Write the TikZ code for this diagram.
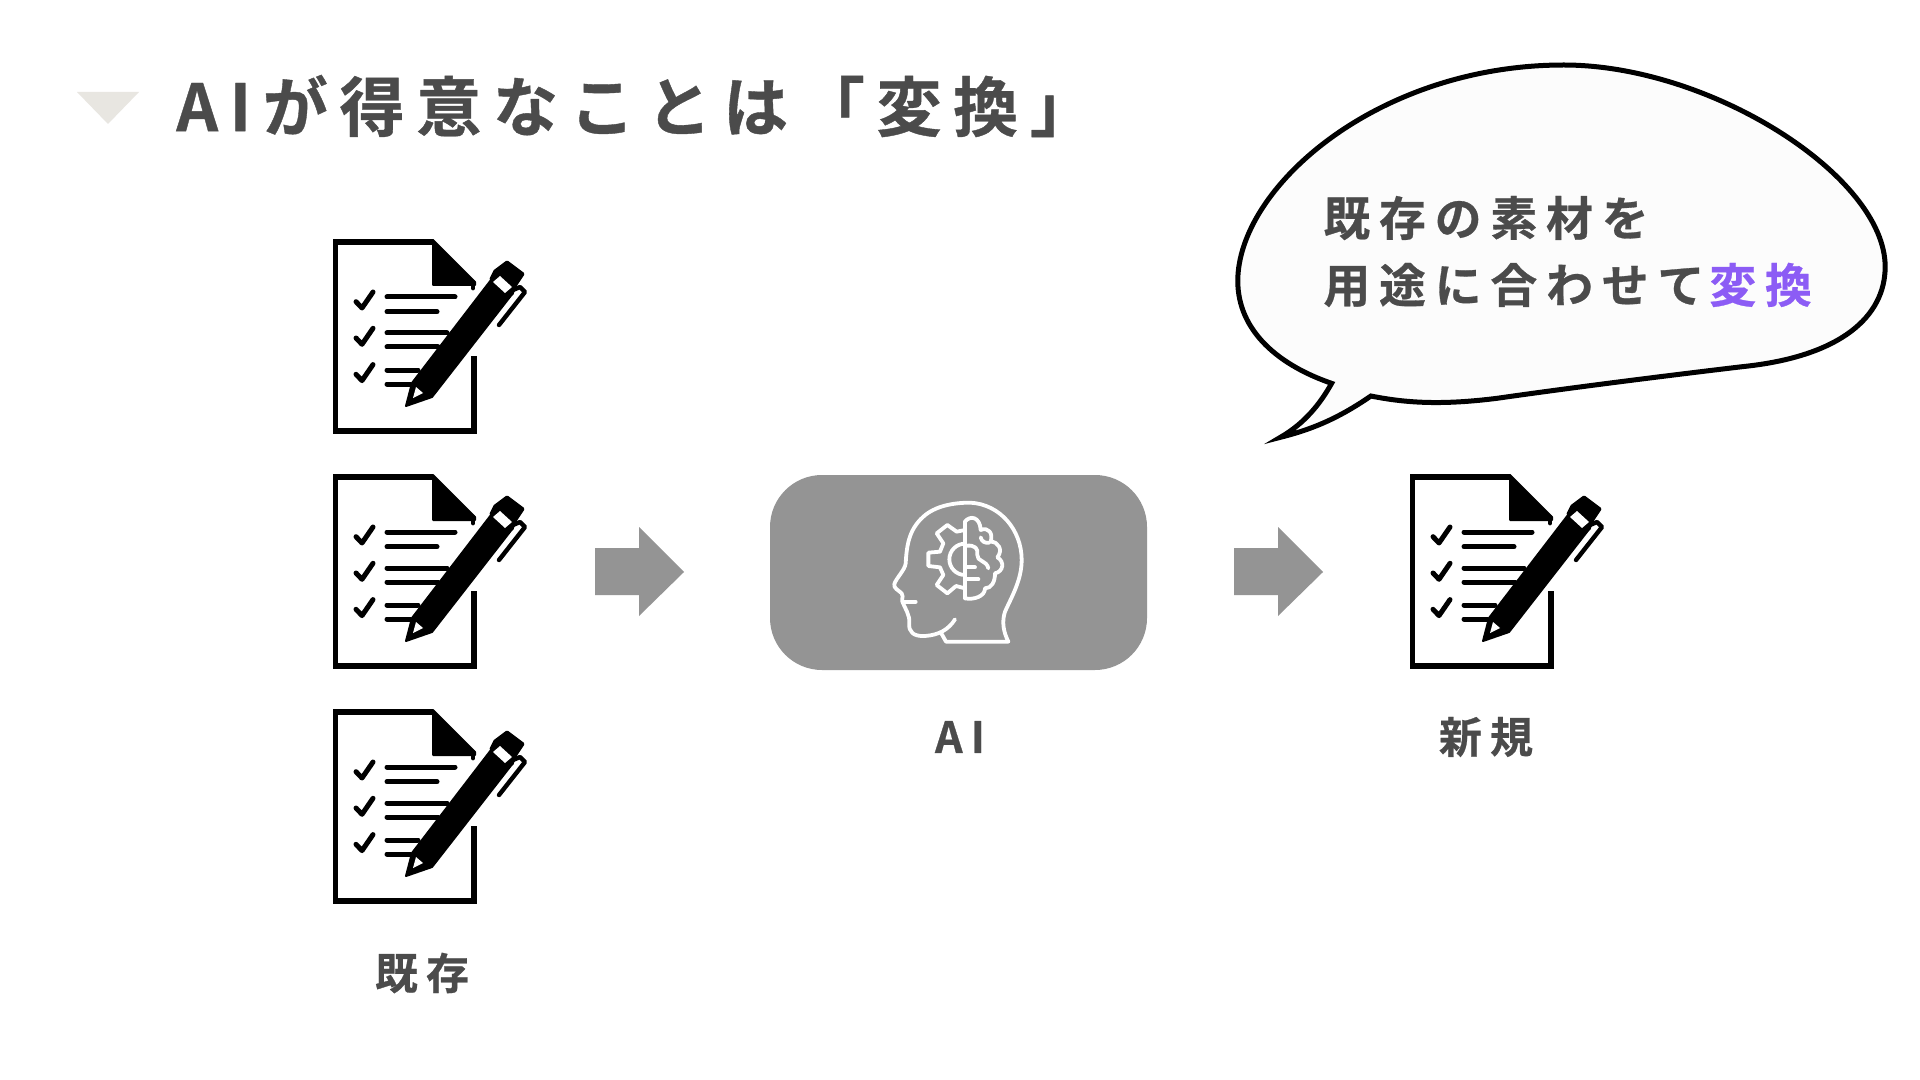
\documentclass[tikz,border=0pt]{standalone}
\usepackage{fontspec}
\setmainfont{Noto Sans CJK JP}[BoldFont={Noto Sans CJK JP Bold}]
\newfontfamily\jptitle{Noto Sans CJK JP Bold}[LetterSpace=18,FakeBold=0.6]
\newfontfamily\jpbody{Noto Sans CJK JP Bold}[LetterSpace=19,FakeBold=0.6]
\definecolor{ink}{HTML}{4B4B4B}
\definecolor{tri}{HTML}{E8E6E1}
\definecolor{panel}{HTML}{949494}
\definecolor{accent}{HTML}{8C5CF5}
\definecolor{bub}{HTML}{FCFCFC}
\tikzset{
  titletext/.style={anchor=west,inner sep=0pt,text=ink,font=\jptitle\fontsize{32.5}{38}\selectfont},
  bubbletext/.style={anchor=west,inner sep=0pt,text=ink,font=\jpbody\fontsize{23.4}{28}\selectfont},
  labeltext/.style={inner sep=0pt,text=ink,font=\jpbody\fontsize{21.5}{26}\selectfont},
  blockarrow/.style={fill=panel,draw=none},
  hd/.style={draw=white,line width=1.9pt,line cap=round,line join=round,fill=none},
  docicon/.pic={
    \begin{scope}[line width=2.5pt,line cap=round,line join=round]
      \draw[line width=2.6pt,line join=miter,line cap=butt] (154,126) -- (154,201) -- (15.5,201) -- (15.5,12) -- (113,12);
      \fill[black,draw=black,line width=1pt] (113,10) -- (155,52) -- (155,55) -- (113,55) -- cycle;
      \draw[line width=2.4pt] (153,52) -- (153,58);
      \draw (67,67) -- (135,67);
      \draw (67,81.7) -- (117,81.7);
      \draw (67,103) -- (127,103);
      \draw (67,117) -- (118,117);
      \draw (67,140) -- (98,140);
      \draw (67,154) -- (90,154);
      \foreach \dy in {0,36.3,72.6} {
        \draw (36,71.7+\dy) -- (42,78+\dy) -- (53,62+\dy);
      }
      \fill[black,draw=black,line width=1pt] (86,176) -- (92,153) -- (171,50) -- (193,63) -- (112,167) -- cycle;
      \fill[black,draw=black,line width=1.5pt] (175,41) -- (187,32) -- (203,44) -- (195,56) -- (192,64) -- (171,49) -- cycle;
      \fill[white] (173,52) -- (180,46) -- (192,57) -- (185,63) -- cycle;
      \draw[line width=2.2pt] (193,60) -- (200,57) -- (205,62) -- (179,95);
      \fill[white] (93,168) -- (96,157) -- (103,163) -- cycle;
    \end{scope}
  },
}
\begin{document}
\begin{tikzpicture}[x=0.5pt,y=-0.5pt]
\useasboundingbox (0,0) rectangle (1920,1080);
\fill[white] (0,0) rectangle (1920,1080);

% title
\fill[tri] (77,92) -- (139,92) -- (108,124) -- cycle;
\node[titletext] (title) at (176,106) {AIが得意なことは「変換」};

% documents
\pic at (320,230) {docicon};
\pic at (320,465) {docicon};
\pic at (320,700) {docicon};
\pic at (1397,465) {docicon};

% arrows
\fill[blockarrow] (595,548) -- (639,548) -- (639,527) -- (684,572) -- (639,616) -- (639,595) -- (595,595) -- cycle;
\fill[blockarrow] (1234,548) -- (1278,548) -- (1278,527) -- (1323,572) -- (1278,616) -- (1278,595) -- (1234,595) -- cycle;

% AI panel
\fill[panel,rounded corners=26pt] (770,475) rectangle (1147,670);

% head icon
\begin{scope}[shift={(860,480)},x=0.16667pt,y=-0.16667pt]
  \draw[hd] (285,418) .. controls (265,450) and (235,465) .. (195,468)
    .. controls (160,470) and (145,455) .. (148,430)
    .. controls (150,405) and (135,385) .. (127,365)
    .. controls (125,350) and (132,345) .. (125,340)
    .. controls (115,330) and (100,325) .. (103,312)
    .. controls (108,295) and (135,270) .. (137,250)
    .. controls (140,200) and (145,150) .. (190,110)
    .. controls (225,78) and (280,68) .. (330,68)
    .. controls (420,72) and (485,150) .. (485,240)
    .. controls (485,300) and (455,350) .. (435,395)
    .. controls (425,425) and (430,455) .. (445,485)
    -- (258,485) -- (245,462);
  \draw[hd] (130,365) -- (167,365);
  % centre line
  \draw[hd] (315,125) -- (315,355);
  % gear half
  \draw[hd] (315,150) -- (290,155) -- (262,135) -- (230,160) -- (250,190) -- (240,215)
    -- (205,218) -- (205,258) -- (240,262) -- (250,285) -- (230,315) -- (262,340) -- (288,318) -- (315,325);
  \draw[hd] (315,285) arc (90:270:47);
  % brain half
  \draw[hd] (315,125) .. controls (330,105) and (360,110) .. (362,150)
    .. controls (385,140) and (400,160) .. (392,185)
    .. controls (415,185) and (430,210) .. (412,232)
    .. controls (435,245) and (430,275) .. (405,280)
    .. controls (405,305) and (395,325) .. (375,325)
    .. controls (375,350) and (340,360) .. (315,355);
  \draw[hd] (320,197) .. controls (345,195) and (355,205) .. (352,225)
    .. controls (350,245) and (380,240) .. (385,265);
  \draw[hd] (320,262) -- (345,262);
  \draw[hd] (320,298) -- (355,298);
  \draw[hd] (362,172) .. controls (365,185) and (375,190) .. (388,188);
\end{scope}

% labels
\node[labeltext] (ailabel) at (960,737) {AI};
\node[labeltext] (oldlabel) at (422,973) {既存};
\node[labeltext] (newlabel) at (1486,737) {新規};

% bubble
\begin{scope}[shift={(1220,50)},x=0.2232pt,y=-0.16667pt]
  \draw[draw=black,fill=bub,line width=2.5pt,line join=miter,miter limit=20]
    (250,1000) .. controls (120,940) and (35,830) .. (40,680)
    .. controls (50,400) and (360,45) .. (770,45)
    .. controls (1100,45) and (1490,380) .. (1490,650)
    .. controls (1490,800) and (1390,920) .. (1170,950)
    .. controls (950,985) and (750,1020) .. (620,1045)
    .. controls (500,1065) and (420,1060) .. (338,1038)
    .. controls (260,1110) and (200,1140) .. (135,1162)
    .. controls (190,1120) and (225,1060) .. (250,1000) -- cycle;
\end{scope}
\node[bubbletext] (line1) at (1323,218) {既存の素材を};
\node[bubbletext] (line2) at (1323,285) {用途に合わせて\hspace{2.5pt}\textcolor{accent}{変換}};
\end{tikzpicture}
\end{document}
